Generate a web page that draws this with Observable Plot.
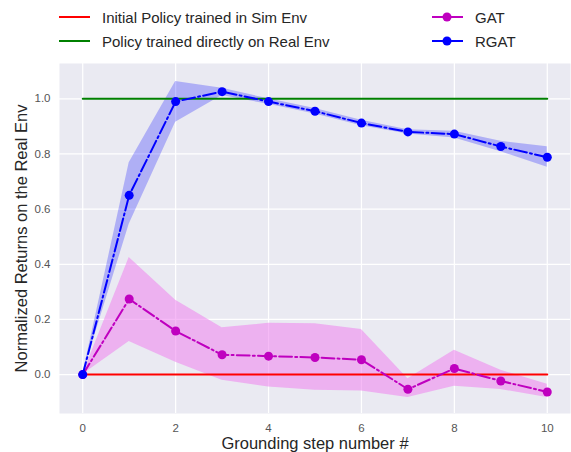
<!DOCTYPE html>
<html><head><meta charset="utf-8">
<script src="https://cdn.jsdelivr.net/npm/d3@7"></script>
<script src="https://cdn.jsdelivr.net/npm/@observablehq/plot@0.6"></script>
<style>
body{margin:0;background:#fff;font-family:"Liberation Sans",Arial,sans-serif;}
#legend{position:relative;width:571px;height:60px;}
.item{position:absolute;display:flex;align-items:center;font-size:15px;color:#262626;white-space:nowrap;}
.item svg{margin-right:12px;}
#chart svg{display:block;}
</style></head><body>
<div id="legend"></div>
<div id="chart"></div>
<script>
const steps = [0, 1, 2, 3, 4, 5, 6, 7, 8, 9, 10];
const gatMean  = [0, 0.274, 0.158, 0.072, 0.067, 0.062, 0.054, -0.053, 0.022, -0.023, -0.063];
const gatLow   = [0, 0.120, 0.045, -0.020, -0.045, -0.057, -0.059, -0.083, -0.042, -0.054, -0.083];
const gatHigh  = [0, 0.425, 0.270, 0.170, 0.186, 0.184, 0.164, -0.015, 0.088, 0.016, -0.035];
const rgatMean = [0, 0.650, 0.990, 1.026, 0.990, 0.955, 0.912, 0.880, 0.872, 0.827, 0.788];
const rgatLow  = [0, 0.545, 0.915, 1.012, 0.980, 0.945, 0.902, 0.872, 0.858, 0.808, 0.752];
const rgatHigh = [0, 0.768, 1.063, 1.038, 1.000, 0.965, 0.922, 0.888, 0.882, 0.846, 0.826];
const simReturn = 0;
const realReturn = 1;
const xTicks = [0, 2, 4, 6, 8, 10];
const yTicks = [0, 0.2, 0.4, 0.6, 0.8, 1.0];
const seriesNames = ["Initial Policy trained in Sim Env", "Policy trained directly on Real Env", "GAT", "RGAT"];
const seriesColors = ["#ff0000", "#008000", "#bf00bf", "#0000ff"];
const xLabel = "Grounding step number #";
const yLabel = "Normalized Returns on the Real Env";

const gat = steps.map((s, i) => ({s, m: gatMean[i], lo: gatLow[i], hi: gatHigh[i]}));
const rgat = steps.map((s, i) => ({s, m: rgatMean[i], lo: rgatLow[i], hi: rgatHigh[i]}));
const dash = "12.8,3.2,2,3.2";

// legend
const legend = document.getElementById("legend");
const legPos = [[59, 6], [59, 30], [432, 6], [432, 30]];
seriesNames.forEach((name, i) => {
  const d = document.createElement("div");
  d.className = "item";
  d.style.left = legPos[i][0] + "px";
  d.style.top = legPos[i][1] + "px";
  d.style.height = "22px";
  const marker = i >= 2 ? `<circle cx="15" cy="11" r="4.5" fill="${seriesColors[i]}"/>` : "";
  d.innerHTML = `<svg width="31" height="22"><line x1="0" x2="31" y1="11" y2="11" stroke="${seriesColors[i]}" stroke-width="2"/>${marker}</svg><span>${name}</span>`;
  legend.appendChild(d);
});

const chart = Plot.plot({
  width: 571,
  height: 392,
  marginTop: 3,
  marginBottom: 39,
  marginLeft: 59,
  marginRight: 1,
  style: {fontFamily: '"Liberation Sans", Arial, sans-serif', color: "#555", background: "#fff", overflow: "visible"},
  x: {domain: [-0.5, 10.5]},
  y: {domain: [-0.141, 1.128]},
  marks: [
    Plot.frame({fill: "#eaeaf2", stroke: null}),
    Plot.gridX(xTicks, {stroke: "#fff", strokeOpacity: 1, strokeWidth: 1.2}),
    Plot.gridY(yTicks, {stroke: "#fff", strokeOpacity: 1, strokeWidth: 1.2}),
    Plot.axisX(xTicks, {tickSize: 0, tickPadding: 10, fontSize: 11.5, fill: "#555", label: null, tickFormat: d3.format("d")}),
    Plot.axisY(yTicks, {tickSize: 0, tickPadding: 9, fontSize: 11.5, fill: "#555", label: null, tickFormat: d3.format(".1f")}),
    Plot.areaY(gat, {x: "s", y1: "lo", y2: "hi", fill: "violet", fillOpacity: 0.55}),
    Plot.areaY(rgat, {x: "s", y1: "lo", y2: "hi", fill: "blue", fillOpacity: 0.25}),
    Plot.lineY(steps, {x: d => d, y: () => simReturn, stroke: seriesColors[0], strokeWidth: 2}),
    Plot.lineY(steps, {x: d => d, y: () => realReturn, stroke: seriesColors[1], strokeWidth: 2}),
    Plot.line(gat, {x: "s", y: "m", stroke: seriesColors[2], strokeWidth: 2, strokeDasharray: dash}),
    Plot.dot(gat, {x: "s", y: "m", r: 4.5, fill: seriesColors[2], stroke: null}),
    Plot.line(rgat, {x: "s", y: "m", stroke: seriesColors[3], strokeWidth: 2, strokeDasharray: dash}),
    Plot.dot(rgat, {x: "s", y: "m", r: 4.5, fill: seriesColors[3], stroke: null}),
    Plot.text([xLabel], {text: d => d, frameAnchor: "bottom", textAnchor: "middle", lineAnchor: "middle", dy: 30.5, fontSize: 16.5, fill: "#262626"}),
    Plot.text([yLabel], {text: d => d, frameAnchor: "left", textAnchor: "middle", lineAnchor: "middle", dx: -38, rotate: -90, fontSize: 16.5, fill: "#262626"})
  ]
});
document.getElementById("chart").appendChild(chart);
</script>
</body></html>
